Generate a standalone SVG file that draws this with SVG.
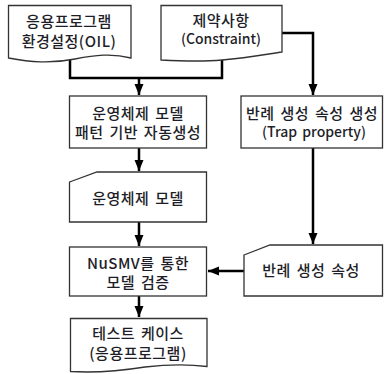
<svg xmlns="http://www.w3.org/2000/svg" width="384" height="374" viewBox="0 0 384 374">
<style>
.box{fill:#fff;stroke:#333;stroke-width:1.3}
.t{font-family:"Noto Sans CJK KR","Noto Sans",sans-serif;font-size:15px;font-weight:500;letter-spacing:0.5px;word-spacing:2px;fill:#1e1e28;text-anchor:middle;dominant-baseline:central}
.l{font-size:14px;letter-spacing:0}
.c{fill:none;stroke:#000;stroke-width:2.5}
</style>
<defs>
<marker id="ah" markerUnits="userSpaceOnUse" markerWidth="12" markerHeight="12" viewBox="0 0 12 12" refX="11" refY="6" orient="auto">
<path d="M0,1.5 L11,6 L0,10.5 Z" fill="#000"/>
</marker>
</defs>
<rect width="384" height="374" fill="#fff"/>
<g id="connectors">
<path class="c" d="M70,60 V78 H222 V60"/>
<path class="c" d="M139,78 V95" marker-end="url(#ah)"/>
<path class="c" d="M282,33 H313 V95" marker-end="url(#ah)"/>
<path class="c" d="M139,148 V171" marker-end="url(#ah)"/>
<path class="c" d="M313,148 V244" marker-end="url(#ah)"/>
<path class="c" d="M139,222 V246" marker-end="url(#ah)"/>
<path class="c" d="M244,271 H208" marker-end="url(#ah)"/>
<path class="c" d="M139,296 V317" marker-end="url(#ah)"/>
</g>
<g id="n1">
<path class="box" d="M8.5,5.5 H131 V58 C112,53 95,55 75,59 C50,64 30,62 8.5,58 Z"/>
<text class="t" x="69" y="20">응용프로그램</text>
<text class="t" x="69" y="40">환경설정(OIL)</text>
</g>
<g id="n2">
<path class="box" d="M161,5.5 H282 V52 C262,55 245,58 222,60 C200,62 180,61 161,60 Z"/>
<text class="t" x="221" y="19">제약사항</text>
<text class="t l" x="221" y="38">(Constraint)</text>
</g>
<g id="n3">
<rect class="box" x="69.5" y="96" width="137" height="52"/>
<text class="t" x="138" y="112">운영체제 모델</text>
<text class="t" x="138" y="131">패턴 기반 자동생성</text>
</g>
<g id="n4">
<rect class="box" x="241" y="96" width="141.5" height="52"/>
<text class="t" x="312" y="112">반례 생성 속성 생성</text>
<text class="t l" x="314" y="131">(Trap property)</text>
</g>
<g id="n5">
<path class="box" d="M69.5,182 L97,172 H206.5 V222 H69.5 Z"/>
<text class="t" x="138" y="197">운영체제 모델</text>
</g>
<g id="n6">
<rect class="box" x="69.5" y="247" width="137" height="49"/>
<text class="t" x="138" y="262">NuSMV를 통한</text>
<text class="t" x="138" y="281">모델 검증</text>
</g>
<g id="n7">
<path class="box" d="M70.5,318.5 H207 V366.5 C188,364 170,364 145,367 C120,371 95,373 70.5,371.5 Z"/>
<text class="t" x="138" y="332">테스트 케이스</text>
<text class="t" x="138" y="352">(응용프로그램)</text>
</g>
<g id="n8">
<path class="box" d="M244,255 L270,245 H382.5 V296 H244 Z"/>
<text class="t" x="311" y="269">반례 생성 속성</text>
</g>
</svg>
